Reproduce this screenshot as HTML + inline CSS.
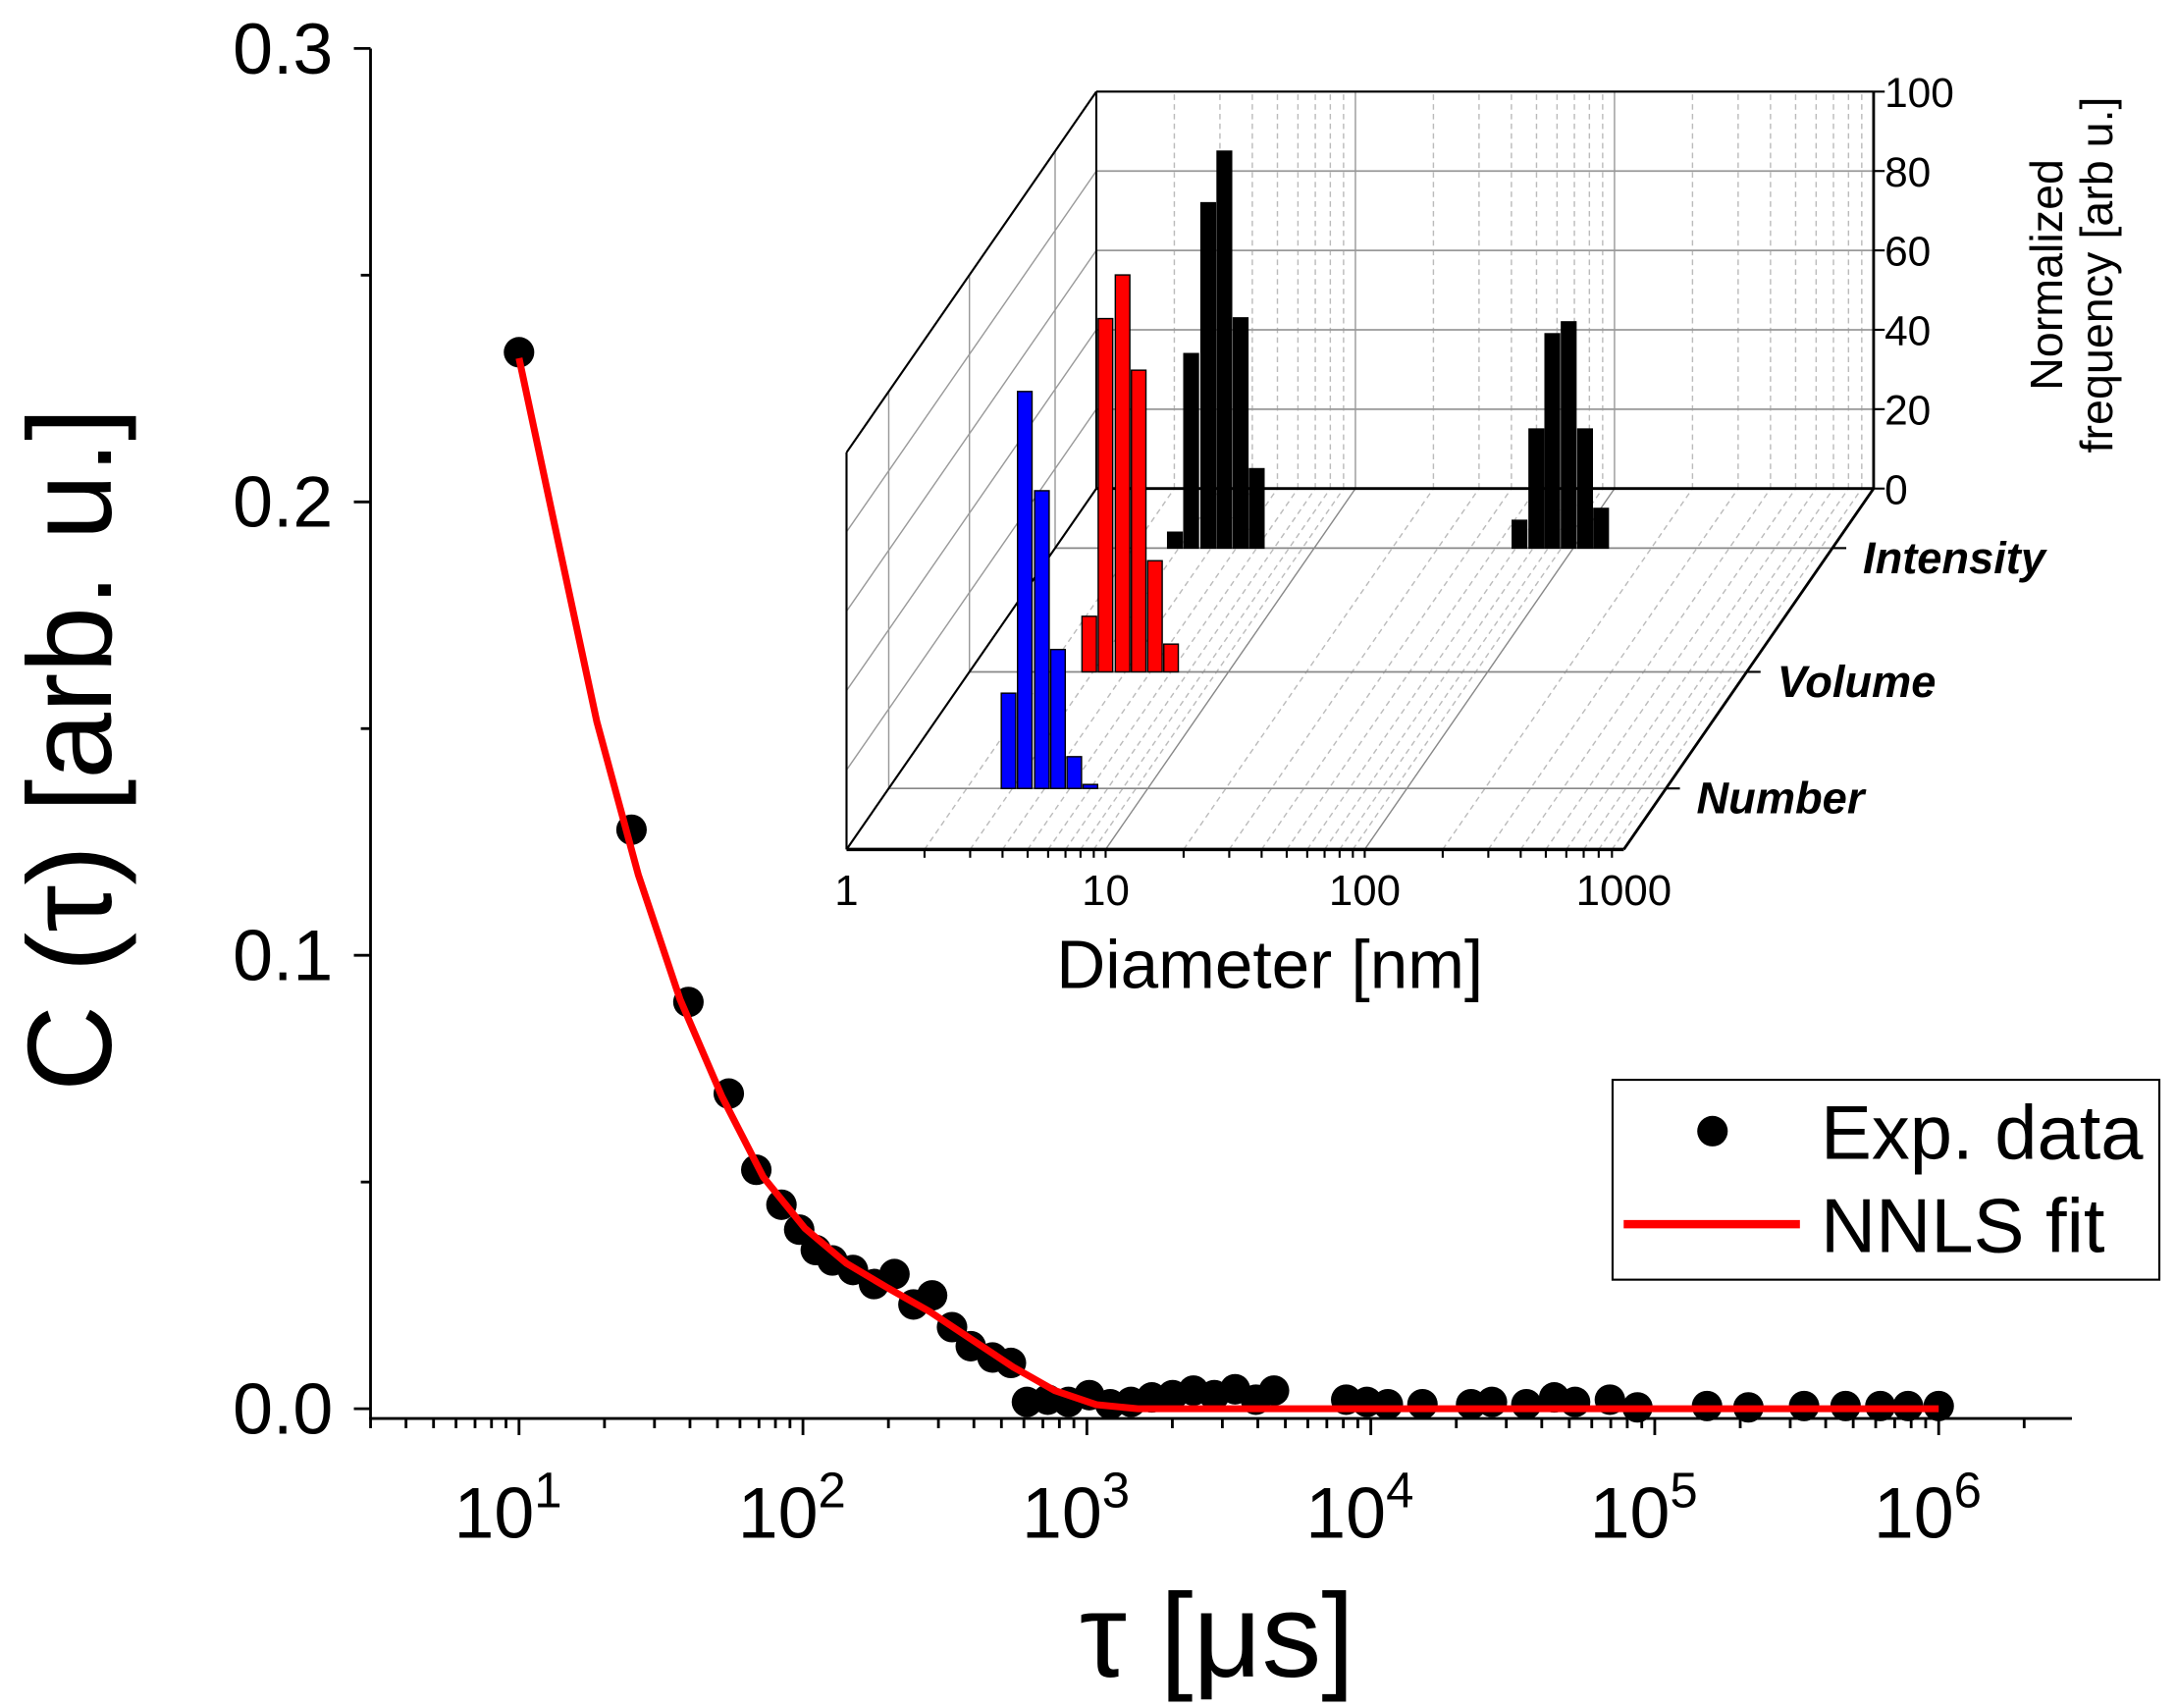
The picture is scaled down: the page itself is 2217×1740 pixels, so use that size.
<!DOCTYPE html>
<html><head><meta charset="utf-8"><style>
html,body{margin:0;padding:0;background:#fff;}
svg{display:block;}
text{font-family:"Liberation Sans",sans-serif;}
</style></head><body>
<svg id="chart" width="2217" height="1740" viewBox="0 0 1568 1230.6" xmlns="http://www.w3.org/2000/svg">
<g id="main"></g>
<g id="inset"></g>
<g id="legend">
  <rect x="1162" y="778" width="394" height="144" fill="#fff" stroke="#000" stroke-width="1.5"/>
  <circle cx="1234" cy="815" r="11" fill="#000"/>
  <text x="1312" y="835" font-size="55">Exp. data</text>
  <line x1="1170" y1="882" x2="1297" y2="882" stroke="#f00" stroke-width="6"/>
  <text x="1312" y="902" font-size="55">NNLS fit</text>
</g>
</svg>
<script>
// ---- main chart data ----
const expTau = [10,24.9,39.5,54.8,68.5,84,97,111,127,150,178,210,245,285,335,390,465,540,615,728,861,1020,1208,1430,1693,2005,2373,2810,3326,3937,4560,8190,9690,11480,15200,22550,26700,35300,44250,52400,69500,86900,152800,213800,335700,470000,623000,780000,1000000];
const expC = [0.233,0.1277,0.0897,0.0695,0.0527,0.045,0.0395,0.035,0.0327,0.0306,0.0275,0.0297,0.023,0.025,0.018,0.0138,0.0113,0.0101,0.0015,0.002,0.0015,0.003,0.001,0.0015,0.0025,0.003,0.004,0.003,0.0043,0.002,0.004,0.002,0.0015,0.001,0.001,0.001,0.0015,0.001,0.0025,0.0015,0.002,0.0003,0.0006,0.0003,0.0006,0.0006,0.0006,0.0006,0.0006];
const fitTau = [10,13.4,18.8,26.3,36.9,51.8,72.5,101.6,142,199.5,280,392,550,771,1080,1513,3720,1000000];
const fitC = [0.2317,0.1944,0.1515,0.1178,0.0903,0.0689,0.0511,0.0398,0.0321,0.0266,0.0214,0.0153,0.0092,0.004,0.0009,0,0,0];
const yTicks = [0,0.1,0.2,0.3];
const yTickLabels = ["0.0","0.1","0.2","0.3"];
const xDecades = [1,2,3,4,5,6];

// ---- inset data ----
const rowNames = ["Number","Volume","Intensity"];
const binDiam = [2.9,3.35,3.9,4.5,5.2,6.0];
const binDiam2 = [62,72,83,96,111,128];
const numberHeights = [24,100,75,35,8,1];
const volumeHeights = [14,89,100,76,28,7];
const intensityHeights = [4,49,87,100,58,20];
const intensityHeights2 = [7,30,54,57,30,10];
const zTicks = [0,20,40,60,80,100];
const dTicks = [1,10,100,1000];

const NS="http://www.w3.org/2000/svg";
function mk(parent, tag, attrs, txt){const e=document.createElementNS(NS,tag);for(const k in attrs)e.setAttribute(k,attrs[k]);if(txt!==undefined)e.textContent=txt;parent.appendChild(e);return e;}
const xs = t => 374 + 204.6*(Math.log10(t)-1);
const ys = c => 1015 - 3267*c;

const main=document.getElementById('main');
let e;
e=mk(main,'line',{x1:267,y1:35,x2:267,y2:1022,stroke:'#000','stroke-width':2});


e=mk(main,'line',{x1:266,y1:1022,x2:1493,y2:1022,stroke:'#000','stroke-width':2});


yTicks.forEach((v,i)=>{
  const y=ys(v);
  e=mk(main,'line',{x1:255,y1:y,x2:267,y2:y,stroke:'#000','stroke-width':2});
  
  
  e=mk(main,'text',{x:240,y:y+18,'font-size':52,'text-anchor':'end'},yTickLabels[i]);
  
  
  if(i<yTicks.length-1){const ym=ys(v+0.05);
    e=mk(main,'line',{x1:260,y1:ym,x2:267,y2:ym,stroke:'#000','stroke-width':2});
    
    }
});
for(let d=0;d<=6;d++){for(let m=1;m<10;m++){const t=m*Math.pow(10,d);const x=xs(t);
  if(x<267||x>1493)continue;
  e=mk(main,'line',{x1:x,y1:1022,x2:x,y2:1022+(m==1?12:7),stroke:'#000','stroke-width':2});
  
  }}
xDecades.forEach(d=>{const x=xs(Math.pow(10,d));
  e=mk(main,'text',{x:x-8,y:1108,'font-size':52,'text-anchor':'middle'});
  
  
  mk(e,'tspan',{},'10');mk(e,'tspan',{dy:-22,'font-size':36},String(d));
});
e=mk(main,'text',{x:0,y:0,'font-size':86,'text-anchor':'middle',transform:'translate(80,540) rotate(-90)'},'C (τ) [arb. u.]');


e=mk(main,'text',{x:877,y:1208,'font-size':86,'text-anchor':'middle'},'τ [μs]');


expTau.forEach((t,i)=>{
  e=mk(main,'circle',{cx:xs(t),cy:ys(expC[i]),r:11,fill:'#000'});
  
  
});
e=mk(main,'polyline',{points:fitTau.map((t,i)=>xs(t)+','+ys(fitC[i])).join(' '),fill:'none',stroke:'#f00','stroke-width':5,'stroke-linejoin':'round'});



// ---- inset ----
const ins=document.getElementById('inset');
const rowT=[0.169,0.492,0.835];
const P=(ld,t,h)=>[610+186.7*ld+180*t, 612-260*t-2.86*h];
function ln(a,b,st,w,dash,name){e=mk(ins,'line',{x1:a[0],y1:a[1],x2:b[0],y2:b[1],stroke:st,'stroke-width':w});if(dash)e.setAttribute('stroke-dasharray',dash);
  
  }
for(let d=0;d<3;d++)for(let m=1;m<10;m++){const ld=d+Math.log10(m);if(m==1&&d==0)continue;
  ln(P(ld,1,0),P(ld,1,100),m==1?'#999':'#bbb',1,m==1?null:'4,3','back-wall-gridline');
  ln(P(ld,0,0),P(ld,1,0),m==1?'#888':'#bbb',1,m==1?null:'4,3','floor-gridline');
  ln(P(ld,0,0),P(ld,0,0).map((v,k)=>k?v+6:v),'#000',1.5,null,'diameter-tick');
}
zTicks.forEach(z=>{if(z>0)ln(P(0,1,z),P(3,1,z),'#999',1.2,null,'back-wall-hline');
  ln(P(0,0,z),P(0,1,z),'#999',1,null,'left-wall-gridline');
  ln(P(3,1,z),[P(3,1,z)[0]+8,P(3,1,z)[1]],'#000',1.5,null,'z-tick');
  e=mk(ins,'text',{x:1358,y:P(3,1,z)[1]+11,'font-size':30},String(z));
  
  
});
rowT.forEach((t,i)=>{ln(P(0,t,0),P(3,t,0),'#888',1.2,null,'row-line');
  ln(P(0,t,0),P(0,t,100),'#999',1,null,'left-wall-vline');
  const p=P(3,t,0);
  ln(p,[p[0]+10,p[1]],'#000',1.5,null,'row-tick');
  e=mk(ins,'text',{x:p[0]+22,y:p[1]+18,'font-size':32,'font-style':'italic','font-weight':'bold'},rowNames[i]);
  
  
});
ln(P(0,1,0),P(0,1,100),'#000',1.5,null,'box-edge');
ln(P(0,1,100),P(3,1,100),'#000',1.5,null,'box-edge');
ln(P(3,1,0),P(3,1,100),'#000',2,null,'box-edge');
ln(P(0,1,0),P(3,1,0),'#000',2,null,'box-edge');
ln(P(0,0,0),P(0,0,100),'#000',1.5,null,'box-edge');
ln(P(0,0,100),P(0,1,100),'#000',1.5,null,'box-edge');
ln(P(0,0,0),P(0,1,0),'#000',1.5,null,'box-edge');
ln(P(0,0,0),P(3,0,0),'#000',2.5,null,'diameter-axis');
ln(P(3,0,0),P(3,1,0),'#000',2,null,'box-edge');
function bars(diams,hs,t,col,name){diams.forEach((d,i)=>{const ld=Math.log10(d);
  const a=P(ld-0.028,t,hs[i]),b=P(ld+0.028,t,0);
  e=mk(ins,'rect',{x:a[0],y:a[1],width:b[0]-a[0],height:b[1]-a[1],fill:col,stroke:'#000','stroke-width':1});
  
  });}
bars(binDiam,intensityHeights,rowT[2],'#000','intensity-bar');
bars(binDiam2,intensityHeights2,rowT[2],'#000','intensity-bar');
bars(binDiam,volumeHeights,rowT[1],'#f00','volume-bar');
bars(binDiam,numberHeights,rowT[0],'#00f','number-bar');
dTicks.forEach(d=>{const p=P(Math.log10(d),0,0);
  e=mk(ins,'text',{x:p[0],y:p[1]+40,'font-size':31,'text-anchor':'middle'},String(d));
  
  });
e=mk(ins,'text',{x:915,y:712,'font-size':49,'text-anchor':'middle'},'Diameter [nm]');


e=mk(ins,'text',{x:0,y:0,'font-size':33,'text-anchor':'middle',transform:'translate(1486,198) rotate(-90)'},'Normalized');


e=mk(ins,'text',{x:0,y:0,'font-size':33,'text-anchor':'middle',transform:'translate(1522,198) rotate(-90)'},'frequency [arb u.]');


</script>
</body></html>
